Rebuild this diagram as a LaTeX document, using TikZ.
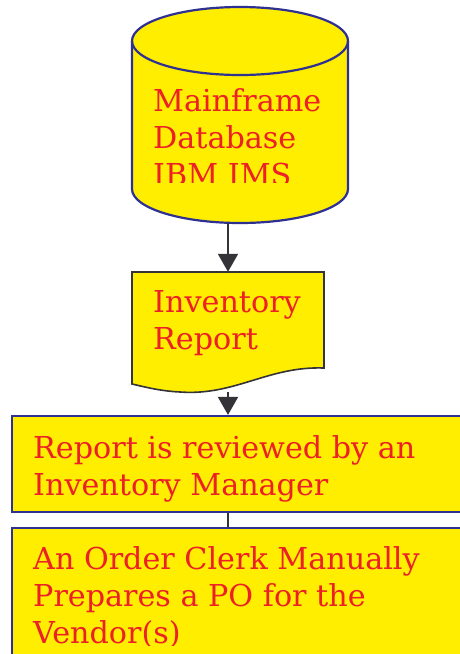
\documentclass[tikz,border=0pt]{standalone}
\usepackage{fontspec}
\setmainfont{DejaVu Serif}
\usetikzlibrary{arrows.meta}
\definecolor{yfill}{RGB}{255,238,0}
\definecolor{rtext}{RGB}{236,32,38}
\definecolor{navy}{RGB}{46,49,146}
\definecolor{dgray}{RGB}{51,51,56}
\tikzset{
  boxtext/.style={inner sep=0pt, anchor=north west, align=left, text=rtext,
    font=\fontsize{30.2}{37}\selectfont},
  arr/.style={draw=dgray, line width=2pt, -{Triangle[length=18pt,width=20pt]}},
  plainline/.style={draw=dgray, line width=2pt},
  procbox/.style={draw=navy, fill=yfill, line width=2.2pt, inner sep=0pt},
}
\begin{document}
\begin{tikzpicture}[x=1pt,y=-1pt]
\useasboundingbox (0,0) rectangle (460,654);
% cylinder
\node (db) [minimum width=216pt, minimum height=216pt, inner sep=0pt] at (240,115) {};
\filldraw[draw=navy, fill=yfill, line width=2.2pt]
  (132,41) -- (132,189) arc[start angle=180, end angle=360, x radius=108, y radius=-34]
  -- (348,41) arc[start angle=0, end angle=180, x radius=108, y radius=-34] -- cycle;
\draw[draw=navy, line width=2.2pt] (132,41) arc[start angle=180, end angle=360, x radius=108, y radius=-34];
\begin{scope}
\clip (132,60) rectangle (348,182);
\node (dbtext) [boxtext] at (153,88) {Mainframe\\Database\\IBM IMS};
\end{scope}
% document
\node (rep) [minimum width=192pt, minimum height=120pt, inner sep=0pt] at (228,332) {};
\filldraw[draw=dgray, fill=yfill, line width=1.6pt]
  (132,272) -- (324,272) -- (324,368)
  .. controls (268,366) and (235,396) .. (180,392)
  .. controls (160,391) and (145,387) .. (132,384) -- cycle;
\node (reptext) [boxtext] at (153,290) {Inventory\\Report};
% boxes
\node (b1) [procbox, minimum width=462pt, minimum height=96pt] at (243,464) {};
\node (b1text) [boxtext] at (33,435) {Report is reviewed by an\\Inventory Manager};
\node (b2) [procbox, minimum width=462pt, minimum height=160pt] at (243,608) {};
\begin{scope}
\clip (20,530) rectangle (460,645);
\node (b2text) [boxtext] at (33,546) {An Order Clerk Manually\\Prepares a PO for the\\Vendor(s)};
\end{scope}
% connectors
\draw[arr] (rep.north |- db.south) -- (rep.north);
\draw[arr] (rep.south) -- (rep.south |- b1.north);
\draw[plainline] (rep.south |- b1.south) -- (rep.south |- b2.north);
\end{tikzpicture}
\end{document}
